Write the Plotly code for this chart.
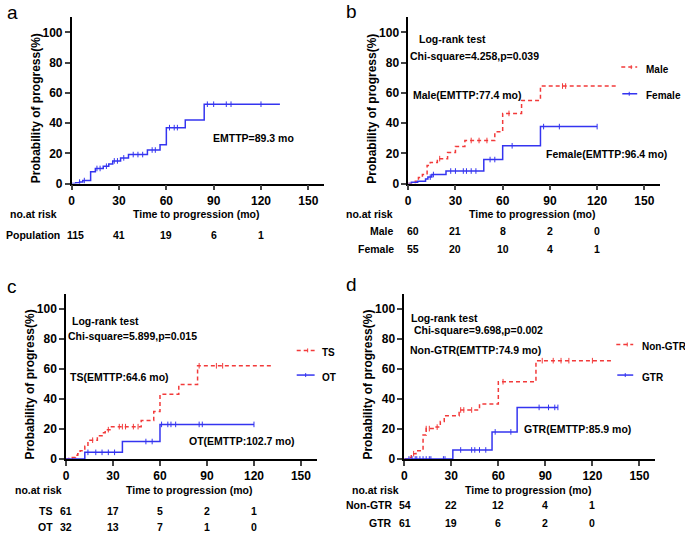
import plotly.graph_objects as go

# ---------------- data ----------------
months_ticks = [0, 30, 60, 90, 120, 150]
risk_ticks = [0, 30, 60, 90, 120]

# panel a: whole population
a_time = [0, 2.5, 5, 7, 12, 15, 20, 23.5, 26, 31, 36, 48, 56, 60, 72, 84, 132]
a_prob = [0, 0.5, 1.0, 2.0, 7.8, 10.0, 11.5, 13.0, 15.0, 17.0, 19.2, 22.2, 25.7, 37.0, 42.0, 52.5, 52.5]
a_cens = [5, 8, 16, 18, 22, 27, 29, 33, 39, 42, 45, 51, 53, 62, 65, 67, 86, 90, 98, 101, 120]
a_risk = ["115", "41", "19", "6", "1"]

# panel b: sex
b_male_time = [0, 3, 4.5, 6.5, 9, 12, 14, 18.5, 25, 30, 36, 55, 60, 72, 84, 132]
b_male_prob = [0, 0.5, 1.5, 4, 6, 12, 14, 16.5, 20.5, 24.5, 28.5, 34.2, 46.4, 55.0, 64.5, 64.5]
b_male_cens = [20, 40, 45, 50, 64, 98, 100]
b_fem_time = [0, 2, 6, 11, 12.5, 15, 24, 48, 60, 84, 120]
b_fem_prob = [0, 0.8, 1.5, 3, 4.3, 6, 8.3, 15.9, 25.0, 37.7, 37.7]
b_fem_cens = [14, 16, 27, 30, 35, 37, 40, 43, 52, 55, 66, 86, 96, 120]
b_risk_male = ["60", "21", "8", "2", "0"]
b_risk_fem = ["55", "20", "10", "4", "1"]

# panel c: TS vs OT
c_ts_time = [0, 2, 4, 6, 7.5, 9, 12, 14, 20, 23, 25, 29, 48, 56, 60, 72, 84, 131]
c_ts_prob = [0, 0.5, 1, 2.5, 3.5, 5.5, 8.5, 12.5, 15.5, 17.5, 19.5, 21.5, 25.6, 31.5, 43.0, 49.5, 62.0, 62.0]
c_ts_cens = [17, 27, 34, 36, 38, 43, 46, 85, 96, 100]
c_ot_time = [0, 12, 36, 60, 120]
c_ot_prob = [0, 4.4, 11.6, 23.0, 23.0]
c_ot_cens = [14, 19, 23, 27, 31, 51, 55, 61, 65, 67, 70, 85, 87, 120]
c_risk_ts = ["61", "17", "5", "2", "1"]
c_risk_ot = ["32", "13", "7", "1", "0"]

# panel d: Non-GTR vs GTR
d_non_time = [0, 2.5, 4.5, 7.5, 12, 14, 19, 23, 25.5, 35, 48, 60, 84, 132]
d_non_prob = [0, 1, 3.5, 5.5, 16.0, 20.2, 21.2, 25.0, 28.8, 32.6, 36.5, 51.4, 65.4, 65.4]
d_non_cens = [6, 14, 16, 21, 36, 38, 43, 63, 88, 95, 100, 105, 120]
d_gtr_time = [0, 31, 56, 72, 98]
d_gtr_prob = [0, 6.0, 18.0, 34.3, 34.3]
d_gtr_cens = [3, 5, 7, 8, 10, 12, 14, 16, 17, 25, 26, 36, 43, 45, 48, 52, 58, 68, 86, 92, 96, 98]
d_risk_non = ["54", "22", "12", "4", "1"]
d_risk_gtr = ["61", "19", "6", "2", "0"]

# ---------------- style ----------------
W, H = 685, 539
RED = "#F23A3A"
BLUE = "#3434F0"
FONT = "Liberation Sans, Arial, sans-serif"
TS = 10.5   # text size of annotations
LS = 10     # legend text size
DY = 2      # small vertical nudge for annotation text


def px(x):
    return x / W


def py(y):
    return 1 - y / H


def step_at(times, probs, t):
    v = probs[0]
    for tt, pp in zip(times, probs):
        if tt <= t:
            v = pp
    return v


fig = go.Figure()

# panel geometry in pixels: (x axis left, x right, y bottom, y top)
panels = {
    1: (69, 322.5, 186, 17.5),
    2: (407, 660, 186, 17.5),
    3: (63.3, 315, 465, 297.5),
    4: (403, 655, 465, 297.5),
}

annotations = []
shapes = []


def txt(text, x, y, size=TS, xanchor="center", bold=True, xref="paper", xshift=0, angle=0, dy=DY):
    annotations.append(dict(
        text=text, x=x if xref != "paper" else px(x), y=py(y + dy), xref=xref, yref="paper",
        xanchor=xanchor, yanchor="middle", showarrow=False, xshift=xshift, textangle=angle,
        font=dict(family=FONT, size=size, color="black", weight="bold" if bold else "normal"),
    ))


for i, (xl, xr, yb, yt) in panels.items():
    xs = "" if i == 1 else str(i)
    fig.layout["xaxis" + xs] = dict(
        domain=[px(xl), px(xr)], range=[0, 160], anchor="y" + xs,
        tickvals=months_ticks, ticks="outside", ticklen=5, tickwidth=1.5,
        showline=True, linecolor="black", linewidth=1.5, showgrid=False, zeroline=False,
        tickfont=dict(family=FONT, size=12, color="black", weight="bold"),
    )
    fig.layout["yaxis" + xs] = dict(
        domain=[py(yb), py(yt)], range=[0, 110], anchor="x" + xs,
        tickvals=[0, 20, 40, 60, 80, 100], ticks="outside", ticklen=5, tickwidth=1.5,
        showline=True, linecolor="black", linewidth=1.5, showgrid=False, zeroline=False,
        tickfont=dict(family=FONT, size=12, color="black", weight="bold"),
    )
    # axis titles
    txt("Probability of progress(%)", xl - 36, (yb + yt) / 2 + 8, size=12, angle=-90, dy=0)
    txt("Time to progression (mo)", (xl + xr) / 2 - 2, yb + 29)


def add_curve(times, probs, cens, color, dash, ax):
    xs = "" if ax == 1 else str(ax)
    fig.add_trace(go.Scatter(
        x=times, y=probs, mode="lines", line=dict(color=color, width=1.5, dash=dash, shape="hv"),
        xaxis="x" + xs, yaxis="y" + xs, showlegend=False, hoverinfo="skip",
    ))
    fig.add_trace(go.Scatter(
        x=cens, y=[step_at(times, probs, t) for t in cens], mode="markers",
        marker=dict(symbol="line-ns", size=4, line=dict(color=color, width=1)),
        xaxis="x" + xs, yaxis="y" + xs, showlegend=False, hoverinfo="skip",
    ))


add_curve(a_time, a_prob, a_cens, BLUE, "solid", 1)
add_curve(b_male_time, b_male_prob, b_male_cens, RED, "4px,3px", 2)
add_curve(b_fem_time, b_fem_prob, b_fem_cens, BLUE, "solid", 2)
add_curve(c_ts_time, c_ts_prob, c_ts_cens, RED, "4px,3px", 3)
add_curve(c_ot_time, c_ot_prob, c_ot_cens, BLUE, "solid", 3)
add_curve(d_non_time, d_non_prob, d_non_cens, RED, "4px,3px", 4)
add_curve(d_gtr_time, d_gtr_prob, d_gtr_cens, BLUE, "solid", 4)

# panel letters
txt("a", 2, 11, size=19, xanchor="left", bold=False)
txt("b", 342, 10, size=19, xanchor="left", bold=False)
txt("c", 2, 288, size=19, xanchor="left", bold=False)
txt("d", 342, 286, size=19, xanchor="left", bold=False)

# panel a texts
txt("EMTTP=89.3 mo", 252, 138)
txt("no.at risk", 5, 215, xanchor="left")
txt("Population", 1, 236, xanchor="left")
for t, v in zip(risk_ticks, a_risk):
    txt(v, t, 236, xref="x", xshift=4 if t == 0 else 0)

# panel b texts
txt("Log-rank test", 451, 38)
txt("Chi-square=4.258,p=0.039", 474, 55)
txt("Male(EMTTP:77.4 mo)", 467, 94)
txt("Female(EMTTP:96.4 mo)", 606, 154)
txt("no.at risk", 343, 215, xanchor="left")
txt("Male", 395, 232, xanchor="right")
txt("Female", 395, 250, xanchor="right")
for t, v1, v2 in zip(risk_ticks, b_risk_male, b_risk_fem):
    txt(v1, t, 232, xref="x2", xshift=5 if t == 0 else 0)
    txt(v2, t, 250, xref="x2", xshift=5 if t == 0 else 0)
txt("Male", 644, 68, size=LS, xanchor="left")
txt("Female", 644, 95, size=LS, xanchor="left")

# panel c texts
txt("Log-rank test", 103, 323)
txt("Chi-square=5.899,p=0.015", 130, 338)
txt("TS(EMTTP:64.6 mo)", 117, 380)
txt("OT(EMTTP:102.7 mo)", 240, 445)
txt("no.at risk", 10, 494, xanchor="left")
txt("TS", 51, 516, xanchor="right")
txt("OT", 52, 532, xanchor="right")
for t, v1, v2 in zip(risk_ticks, c_risk_ts, c_risk_ot):
    txt(v1, t, 516, xref="x3")
    txt(v2, t, 532, xref="x3")
txt("TS", 318, 355, size=LS, xanchor="left")
txt("OT", 318, 380, size=LS, xanchor="left")

# panel d texts
txt("Log-rank test", 443, 320)
txt(" Chi-square=9.698,p=0.002", 476, 332)
txt("Non-GTR(EMTTP:74.9 mo)", 475, 353)
txt("GTR(EMTTP:85.9 mo)", 577, 433)
txt("no.at risk", 349, 494, xanchor="left")
txt("Non-GTR", 393, 510, xanchor="right")
txt("GTR", 393, 528, xanchor="right")
for t, v1, v2 in zip(risk_ticks, d_risk_non, d_risk_gtr):
    txt(v1, t, 510, xref="x4", xshift=1 if t == 0 else 0)
    txt(v2, t, 528, xref="x4", xshift=1 if t == 0 else 0)
txt("Non-GTR", 640, 349, size=LS, xanchor="left")
txt("GTR", 640, 380, size=LS, xanchor="left")


# legend keys (drawn as small shapes)
def key(x0, x1, y, color, dash, tick=None):
    shapes.append(dict(type="line", xref="paper", yref="paper", x0=px(x0), x1=px(x1), y0=py(y), y1=py(y),
                       line=dict(color=color, width=1.5, dash=dash)))
    if tick is not None:
        shapes.append(dict(type="line", xref="paper", yref="paper", x0=px(tick), x1=px(tick),
                           y0=py(y + 2), y1=py(y - 2), line=dict(color=color, width=1)))


key(621, 637, 68, RED, "4px,3px", 631)
key(622, 637, 95, BLUE, "solid", 629)
key(295, 313, 355, RED, "4px,3px", 306)
key(295, 313, 380, BLUE, "solid", 304)
key(616, 633, 349, RED, "4px,3px", 627)
key(617, 633, 380, BLUE, "solid", 625)

fig.update_layout(
    width=W, height=H, margin=dict(l=0, r=0, t=0, b=0),
    paper_bgcolor="white", plot_bgcolor="white",
    annotations=annotations, shapes=shapes, showlegend=False,
)

fig.write_html(
    "out.html",
    config={"displayModeBar": False},
    post_script="document.body.style.margin='0';document.body.style.overflow='hidden';",
)
